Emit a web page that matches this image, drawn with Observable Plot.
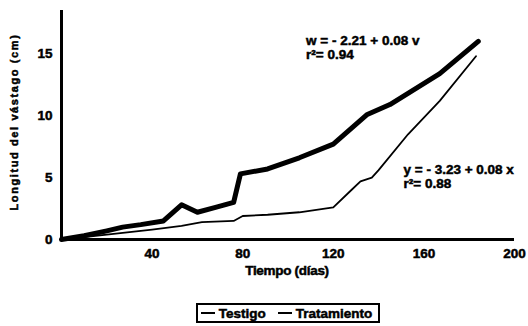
<!DOCTYPE html>
<html>
<head>
<meta charset="utf-8">
<script src="https://cdn.jsdelivr.net/npm/d3@7"></script>
<script src="https://cdn.jsdelivr.net/npm/@observablehq/plot@0.6"></script>
<style>
  html, body { margin: 0; padding: 0; background: #fff; }
  body { width: 528px; height: 326px; overflow: hidden; font-family: "Liberation Sans", Arial, sans-serif; }
  #legend { display: flex; justify-content: center; padding-left: 48px; }
  .box { border: 2px solid #000; padding: 0 6px 0 3px; height: 16px; display: flex; align-items: center; gap: 12px; font-weight: bold; font-size: 13.5px; letter-spacing: 0px; -webkit-text-stroke: 0.5px #000; }
  .item { display: flex; align-items: center; gap: 4px; }
  .sw { display: inline-block; width: 14px; border-top: 2px solid #000; }
  svg text { stroke: #000; stroke-width: 0.5px; font-weight: bold; }
</style>
</head>
<body>
<div id="chart"></div>
<div id="legend"></div>
<script>
const daysTestigo = [0, 20, 40, 53, 62, 76, 80, 91, 105, 120, 128, 132, 137, 140, 153, 167, 183];
const testigo     = [0, 0.4, 0.8, 1.1, 1.4, 1.5, 1.9, 2.0, 2.2, 2.6, 4.0, 4.7, 5.0, 5.6, 8.5, 11.2, 14.8];

const daysTrat = [0, 10, 20, 27, 35, 45, 53, 60, 68, 76, 79, 91, 105, 120, 135, 145, 167, 184];
const tratamiento = [0, 0.3, 0.7, 1.0, 1.2, 1.5, 2.8, 2.2, 2.6, 3.0, 5.3, 5.7, 6.6, 7.7, 10.1, 10.9, 13.4, 16.0];

const xTicks = [40, 80, 120, 160, 200];
const yTicks = [0, 5, 10, 15];

const annotations = [
  {x: 108, y: 15.5, text: "w = - 2.21 + 0.08 v\nr²= 0.94"},
  {x: 151, y: 5.1, text: "y = - 3.23 + 0.08 x\nr²= 0.88"}
];

const seriesNames = ["Testigo", "Tratamiento"];

const dTest = daysTestigo.map((d, i) => ({x: d, y: testigo[i]}));
const dTrat = daysTrat.map((d, i) => ({x: d, y: tratamiento[i]}));

const chart = Plot.plot({
  width: 528,
  height: 296,
  marginLeft: 61,
  marginRight: 14,
  marginTop: 10,
  marginBottom: 57,
  style: {fontFamily: "Liberation Sans, Arial, sans-serif", fontWeight: "bold", fontSize: "13px", color: "#000"},
  x: {domain: [0, 200], ticks: xTicks, tickSize: 0, tickPadding: 9, label: null},
  y: {domain: [0, 18.5], ticks: yTicks, tickSize: 0, tickPadding: 9, label: null},
  marks: [
    Plot.line(dTest, {x: "x", y: "y", stroke: "#000", strokeWidth: 1.8}),
    Plot.line(dTrat, {x: "x", y: "y", stroke: "#000", strokeWidth: 5, strokeLinejoin: "round", strokeLinecap: "round"}),
    Plot.ruleX([0], {stroke: "#000", strokeWidth: 3}),
    Plot.ruleY([0], {stroke: "#000", strokeWidth: 3}),
    Plot.text(annotations, {x: "x", y: "y", text: "text", textAnchor: "start", lineAnchor: "middle", fontSize: 13.5, fontWeight: "bold", lineHeight: 1.05, fill: "#000"})
  ]
});

const svg = d3.select(chart);
svg.selectAll("[aria-label='x-axis tick label'] text, [aria-label='y-axis tick label'] text").style("font-size", "13.5px").style("font-weight", "bold");
svg.append("text")
  .attr("x", 287).attr("y", 275)
  .attr("text-anchor", "middle")
  .attr("fill", "#000")
  .style("font-size", "13.5px").style("font-weight", "bold").style("letter-spacing", "-0.3px")
  .text("Tiempo (días)");
svg.append("text")
  .attr("transform", "translate(18,122) rotate(-90)")
  .attr("text-anchor", "middle")
  .attr("fill", "#000")
  .style("font-size", "11px").style("font-weight", "bold").style("letter-spacing", "1.6px")
  .text("Longitud del vástago (cm)");

document.getElementById("chart").appendChild(chart);

const legend = document.getElementById("legend");
const box = document.createElement("div");
box.className = "box";
seriesNames.forEach(n => {
  const it = document.createElement("span");
  it.className = "item";
  const sw = document.createElement("span");
  sw.className = "sw";
  it.appendChild(sw);
  it.appendChild(document.createTextNode(n));
  box.appendChild(it);
});
legend.style.marginTop = "7px";
legend.appendChild(box);
</script>
</body>
</html>
